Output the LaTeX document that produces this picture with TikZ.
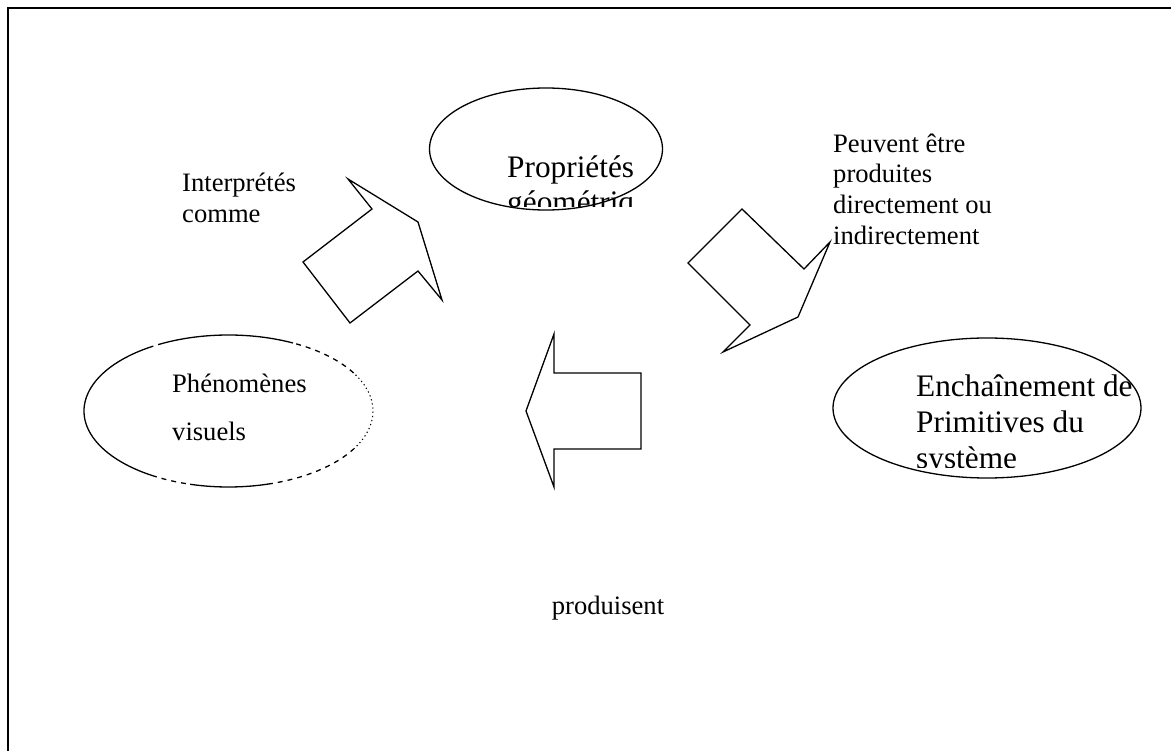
\documentclass[tikz,border=0pt]{standalone}
\usepackage{fontspec}
\setmainfont{Liberation Serif}
\usetikzlibrary{shapes.geometric}
\tikzset{
  lbl/.style={anchor=base west, inner sep=0pt, font=\fontsize{26.6}{30}\selectfont},
  big/.style={anchor=base west, inner sep=0pt, font=\fontsize{31.3}{35}\selectfont},
  shp/.style={draw, line width=1.3pt, line join=miter},
  oval/.style={ellipse, draw, line width=1.3pt, inner sep=0pt},
  dsh/.style={line width=1.3pt, dash pattern=on 5pt off 5pt},
  dtt/.style={line width=1.1pt, dash pattern=on 1.2pt off 3pt},
  sld/.style={line width=1.3pt},
}
\begin{document}
\begin{tikzpicture}[x=1pt,y=-1pt]
\useasboundingbox (0,0) rectangle (1171,751);
% frame
\draw[line width=2pt] (8,760) -- (8,8) -- (1180,8);

% top ellipse
\node[oval, minimum width=233pt, minimum height=122pt] (top) at (546,149) {};
\begin{scope}
  \clip (420,95) rectangle (680,207);
  \node[big] (t1) at (507,178) {Propriétés};
  \node[big] (t2) at (507,213) {géométriq};
\end{scope}

% right ellipse
\node[oval, minimum width=308pt, minimum height=140pt] (right) at (987,408) {};
\begin{scope}
  \clip (830,340) rectangle (1150,467);
  \node[big] (r1) at (916,397) {Enchaînement de};
  \node[big] (r2) at (916,432) {Primitives du};
  \node[big] (r3) at (916,468) {système};
\end{scope}

% left ellipse (partly dashed outline)
\coordinate (lc) at (228.5,411);
\newcommand{\lseg}[3]{\draw[#1] (lc) ++(#2:144.5 and 76) arc[start angle=#2, end angle=#3, x radius=144.5, y radius=76];}
\lseg{sld}{-122}{-238}
\lseg{sld}{-63.5}{-117}
\lseg{sld}{-254.6}{-285.8}
\lseg{dsh}{-117}{-122}
\lseg{dsh}{-238}{-254.6}
\lseg{dsh}{-285.8}{-330}
\lseg{dsh}{-30}{-63.5}
\lseg{dtt}{30}{-30}
\node[lbl] (l1) at (172,393) {Phénomènes};
\node[lbl] (l2) at (172,440) {visuels};

% block arrows
\draw[shp] (348,179) -- (418,222) -- (442,300) -- (418,271) -- (350,323) -- (303,262) -- (372,209) -- cycle;
\draw[shp] (742,209) -- (804,269) -- (830,242) -- (798,317) -- (723,352) -- (750,325) -- (688,263) -- cycle;
\draw[shp] (554,334) -- (554,373) -- (641,373) -- (641,449) -- (554,449) -- (554,487) -- (526,411) -- cycle;

% labels
\node[lbl] (a1) at (182,192) {Interprétés};
\node[lbl] (a2) at (182,223) {comme};
\node[lbl] (b1) at (833,153) {Peuvent être};
\node[lbl] (b2) at (833,183) {produites};
\node[lbl] (b3) at (833,214) {directement ou};
\node[lbl] (b4) at (833,245) {indirectement};
\node[lbl, anchor=base] (c1) at (608,614) {produisent};
\end{tikzpicture}
\end{document}
